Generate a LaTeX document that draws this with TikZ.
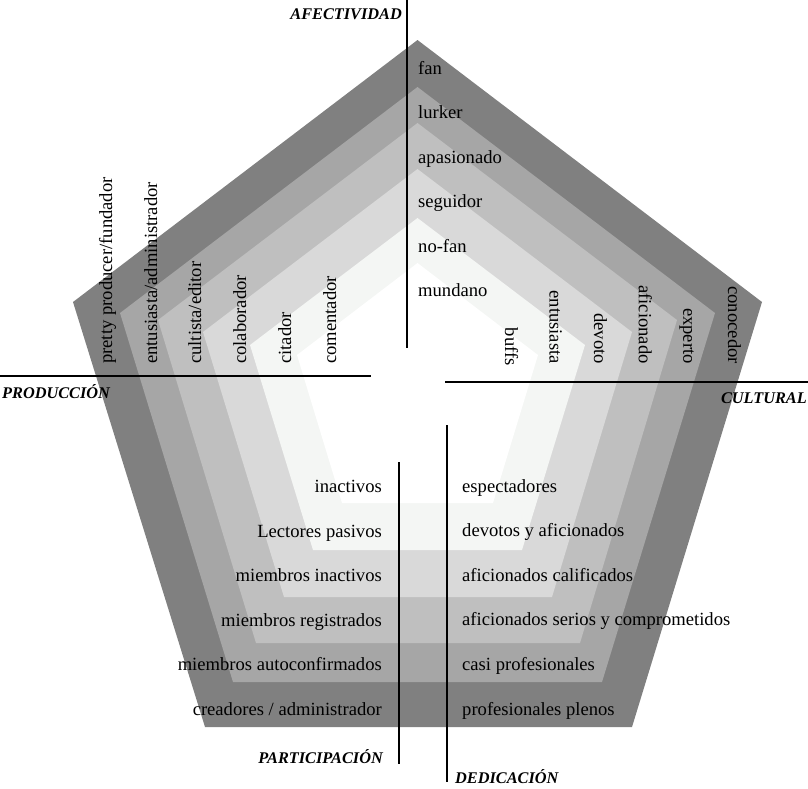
\documentclass[tikz,border=0pt]{standalone}
\usepackage{fontspec}
\setmainfont{Liberation Serif}
\definecolor{gA}{RGB}{128,128,128}
\definecolor{gB}{RGB}{166,166,166}
\definecolor{gC}{RGB}{191,191,191}
\definecolor{gD}{RGB}{217,217,217}
\definecolor{gE}{RGB}{244,246,244}
\begin{document}
\begin{tikzpicture}[x=1pt,y=-1pt,
  lbl/.style={font=\fontsize{18.6}{22}\selectfont, inner sep=0pt},
  axlbl/.style={font=\fontsize{16.3}{20}\selectfont\bfseries\itshape, inner sep=0pt},
  axisline/.style={line width=1.6pt, black},
  band/.style={fill=#1, draw=none}]
\useasboundingbox (0,0) rectangle (808,788);
% nested pentagons
\fill[band=gA] (417.5,40) -- (762,302) -- (632,727) -- (205,727) -- (73,302) -- cycle;
\fill[band=gB] (417.5,87) -- (715,313) -- (602,682) -- (233,682) -- (120,313) -- cycle;
\fill[band=gC] (417.5,123) -- (677,320) -- (580,643) -- (256,643) -- (158,320) -- cycle;
\fill[band=gD] (417.5,169) -- (632,332) -- (552,597) -- (284,597) -- (203,332) -- cycle;
\fill[band=gE] (417.5,218) -- (585,345) -- (522,550) -- (313,550) -- (250,345) -- cycle;
\fill[band=white] (417.5,263) -- (538,355) -- (493,503) -- (342,503) -- (297,355) -- cycle;
% axis lines
\coordinate (afA) at (407,0);   \coordinate (afB) at (407,348);
\coordinate (prA) at (0,376);   \coordinate (prB) at (371,376);
\coordinate (cuA) at (445,382); \coordinate (cuB) at (808,382);
\coordinate (paA) at (399,462); \coordinate (paB) at (399,764);
\coordinate (deA) at (447,425); \coordinate (deB) at (447,782);
\draw[axisline] (afA) -- (afB);
\draw[axisline] (prA) -- (prB);
\draw[axisline] (cuA) -- (cuB);
\draw[axisline] (paA) -- (paB);
\draw[axisline] (deA) -- (deB);
% axis labels
\node[axlbl, anchor=base east] (lAf) at (402,19) {AFECTIVIDAD};
\node[axlbl, anchor=base west] (lPr) at (2,398) {PRODUCCIÓN};
\node[axlbl, anchor=base east] (lCu) at (807,403) {CULTURAL};
\node[axlbl, anchor=base east] (lPa) at (383,763) {PARTICIPACIÓN};
\node[axlbl, anchor=base west] (lDe) at (455,783) {DEDICACIÓN};
% top (afectividad)
\node[lbl, anchor=base west] (t1) at (418,74) {fan};
\node[lbl, anchor=base west] (t2) at (418,118.5) {lurker};
\node[lbl, anchor=base west] (t3) at (418,163) {apasionado};
\node[lbl, anchor=base west] (t4) at (418,207) {seguidor};
\node[lbl, anchor=base west] (t5) at (418,252) {no-fan};
\node[lbl, anchor=base west] (t6) at (418,296) {mundano};
% left (produccion)
\node[lbl, rotate=90, anchor=base west] (p1) at (112,364) {pretty producer/fundador};
\node[lbl, rotate=90, anchor=base west] (p2) at (157,364) {entusiasta/administrador};
\node[lbl, rotate=90, anchor=base west] (p3) at (201,364) {cultista/editor};
\node[lbl, rotate=90, anchor=base west] (p4) at (246,364) {colaborador};
\node[lbl, rotate=90, anchor=base west] (p5) at (291,364) {citador};
\node[lbl, rotate=90, anchor=base west] (p6) at (336,364) {comentador};
% right (cultural)
\node[lbl, rotate=-90, anchor=base east] (c1) at (505,366) {buffs};
\node[lbl, rotate=-90, anchor=base east] (c2) at (549.6,364) {entusiasta};
\node[lbl, rotate=-90, anchor=base east] (c3) at (594.2,364) {devoto};
\node[lbl, rotate=-90, anchor=base east] (c4) at (638.8,364) {aficionado};
\node[lbl, rotate=-90, anchor=base east] (c5) at (683.4,364) {experto};
\node[lbl, rotate=-90, anchor=base east] (c6) at (728,364) {conocedor};
% bottom left (participacion)
\node[lbl, anchor=base east] (q1) at (382,492) {inactivos};
\node[lbl, anchor=base east] (q2) at (382,537) {Lectores pasivos};
\node[lbl, anchor=base east] (q3) at (382,581) {miembros inactivos};
\node[lbl, anchor=base east] (q4) at (382,626) {miembros registrados};
\node[lbl, anchor=base east] (q5) at (382,670) {miembros autoconfirmados};
\node[lbl, anchor=base east] (q6) at (382,715) {creadores / administrador};
% bottom right (dedicacion)
\node[lbl, anchor=base west] (d1) at (462,492) {espectadores};
\node[lbl, anchor=base west] (d2) at (462,536.5) {devotos y aficionados};
\node[lbl, anchor=base west] (d3) at (462,581) {aficionados calificados};
\node[lbl, anchor=base west] (d4) at (462,625) {aficionados serios y comprometidos};
\node[lbl, anchor=base west] (d5) at (462,670) {casi profesionales};
\node[lbl, anchor=base west] (d6) at (462,715) {profesionales plenos};
\end{tikzpicture}
\end{document}
